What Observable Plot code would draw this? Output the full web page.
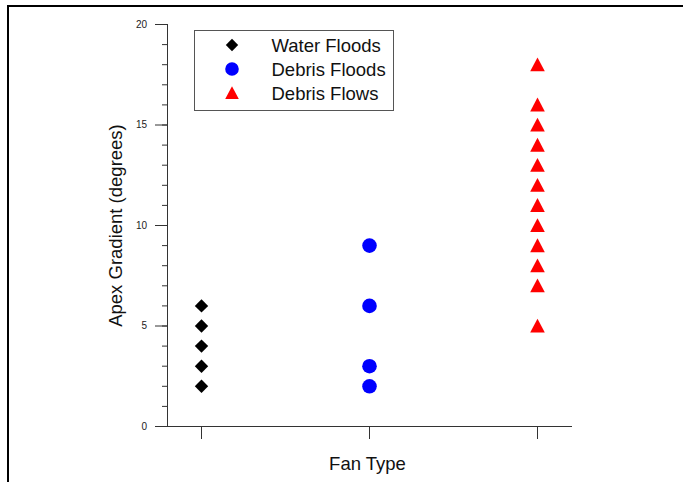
<!DOCTYPE html>
<html>
<head>
<meta charset="utf-8">
<script src="https://cdn.jsdelivr.net/npm/d3@7"></script>
<script src="https://cdn.jsdelivr.net/npm/@observablehq/plot@0.6"></script>
<style>
  html, body { margin: 0; padding: 0; background: #fff; }
  #chart { position: relative; width: 683px; height: 482px; }
</style>
</head>
<body>
<div id="chart"></div>
<script>
// ---- data ----
const categories = ["Water Floods", "Debris Floods", "Debris Flows"];
const waterFloods = [2, 3, 4, 5, 6];
const debrisFloods = [2, 3, 6, 9];
const debrisFlows = [5, 7, 8, 9, 10, 11, 12, 13, 14, 15, 16, 18];
const yMajorTicks = [0, 5, 10, 15, 20];
const yMinorTicks = [0, 1, 2, 3, 4, 5, 6, 7, 8, 9, 10, 11, 12, 13, 14, 15, 16, 17, 18, 19, 20];
const yLabel = "Apex Gradient (degrees)";
const xLabel = "Fan Type";
const colors = ["#000000", "#0000ff", "#ff0000"];

// ---- symbols ----
const diamondSym = {
  draw(ctx, size) {
    const r = Math.sqrt(size / Math.PI);
    ctx.moveTo(0, -r); ctx.lineTo(r, 0); ctx.lineTo(0, r); ctx.lineTo(-r, 0); ctx.closePath();
  }
};
const circleSym = {
  draw(ctx, size) {
    const r = Math.sqrt(size / Math.PI);
    ctx.moveTo(r, 0); ctx.arc(0, 0, r, 0, 2 * Math.PI); ctx.closePath();
  }
};
const triangleSym = {
  draw(ctx, size) {
    const r = Math.sqrt(size / Math.PI);
    ctx.moveTo(0, -r); ctx.lineTo(r, r * 0.9); ctx.lineTo(-r, r * 0.9); ctx.closePath();
  }
};
const symbols = [diamondSym, circleSym, triangleSym];
const radii = [6.7, 7.3, 7.3];

const series = [waterFloods, debrisFloods, debrisFlows].map((vals, i) =>
  vals.map(v => ({type: categories[i], value: v}))
);

const axisColor = "#333";
const font = "'Liberation Sans', Arial, sans-serif";
const bigFont = 18.5;

const plot = Plot.plot({
  width: 683,
  height: 482,
  marginLeft: 167,
  marginRight: 112,
  marginTop: 24,
  marginBottom: 56,
  style: {fontFamily: font, background: "white", color: "#222"},
  x: {type: "point", domain: categories, padding: 0.2, axis: null},
  y: {domain: [0, 20], axis: null},
  marks: [
    Plot.frame({anchor: "left", stroke: axisColor}),
    Plot.frame({anchor: "bottom", stroke: axisColor}),
    Plot.axisY(yMinorTicks, {tickSize: 5, text: null, label: null, stroke: axisColor}),
    Plot.axisY(yMajorTicks, {tickSize: 12, tickPadding: 8.5, fontSize: 10, label: null, stroke: axisColor}),
    Plot.axisX(categories, {tickSize: 13, text: null, label: null, stroke: axisColor}),
    Plot.text([yLabel], {frameAnchor: "left", rotate: -90, dx: -51.5, fontSize: bigFont, textAnchor: "middle", lineAnchor: "middle", fill: "#111"}),
    Plot.text([xLabel], {frameAnchor: "bottom", dy: 37.5, dx: -2, fontSize: bigFont, textAnchor: "middle", lineAnchor: "middle", fill: "#111"}),
    ...series.map((data, i) =>
      Plot.dot(data, {x: "type", y: "value", symbol: symbols[i], r: radii[i], fill: colors[i], stroke: "none"})
    )
  ]
});

document.getElementById("chart").appendChild(plot);

// ---- decorations: page border and in-plot legend ----
const svg = d3.select(plot);
svg.append("line").attr("x1", 7).attr("x2", 683).attr("y1", 6).attr("y2", 6)
  .attr("stroke", "#000").attr("stroke-width", 2);
svg.append("line").attr("x1", 8).attr("x2", 8).attr("y1", 5).attr("y2", 482)
  .attr("stroke", "#000").attr("stroke-width", 2);

const legend = svg.append("g").attr("font-family", font).attr("text-anchor", "start");
legend.append("rect").attr("x", 194.5).attr("y", 30.5).attr("width", 199).attr("height", 80)
  .attr("fill", "white").attr("stroke", "#555").attr("stroke-width", 1);
categories.forEach((name, i) => {
  const cy = 45 + i * 24;
  legend.append("path")
    .attr("transform", `translate(232,${cy})`)
    .attr("d", d3.symbol(symbols[i], Math.PI * (radii[i] - 0.5) ** 2)())
    .attr("fill", colors[i]);
  legend.append("text").attr("x", 271.5).attr("y", cy + 6.5)
    .attr("text-anchor", "start")
    .attr("font-size", bigFont).attr("fill", "#111").text(name);
});
</script>
</body>
</html>
